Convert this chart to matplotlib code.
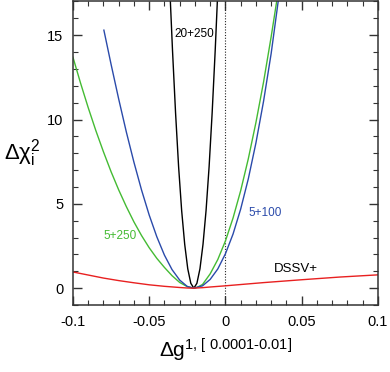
import matplotlib
matplotlib.use("Agg")
import matplotlib.pyplot as plt

plt.rcParams['font.family'] = ['Liberation Sans', 'DejaVu Sans']
plt.rcParams['mathtext.fontset'] = 'custom'
plt.rcParams['mathtext.rm'] = 'Liberation Sans'
plt.rcParams['mathtext.it'] = 'Liberation Sans'
plt.rcParams['mathtext.default'] = 'regular'

# values
x_20_250 = [-0.0361, -0.0347, -0.0327, -0.0307, -0.0287, -0.0267, -0.0247, -0.0227,
            -0.0207, -0.0187, -0.0167, -0.0147, -0.0127, -0.0107, -0.0087, -0.0067,
            -0.0053]
y_20_250 = [17.0, 14.1, 10.4, 7.2, 4.6, 2.6, 1.15, 0.29,
            0.0, 0.29, 1.15, 2.6, 4.6, 7.2, 10.4, 14.1,
            17.0]

x_5_250 = [-0.100, -0.095, -0.090, -0.085, -0.080, -0.075, -0.070, -0.065,
           -0.060, -0.055, -0.050, -0.045, -0.040, -0.035, -0.030, -0.025,
           -0.0207, -0.0185, -0.015, -0.010, -0.005, 0.000, 0.005, 0.010,
           0.015, 0.020, 0.025, 0.030, 0.0336]
y_5_250 = [13.7, 12.16, 10.71, 9.35, 8.09, 6.91, 5.83, 4.84,
           3.93, 3.12, 2.40, 1.77, 1.23, 0.74, 0.34, 0.09,
           0.0, 0.05, 0.22, 0.85, 1.70, 2.80, 4.16, 5.78,
           7.67, 9.82, 12.22, 14.91, 17.0]

x_5_100 = [-0.0797, -0.075, -0.070, -0.065, -0.060, -0.055, -0.050, -0.045,
           -0.040, -0.035, -0.030, -0.025, -0.0207, -0.015, -0.010, -0.005,
           0.000, 0.005, 0.010, 0.015, 0.020, 0.025, 0.030, 0.0346]
y_5_100 = [15.3, 13.28, 11.22, 9.27, 7.47, 5.82, 4.34, 3.05,
           1.96, 1.10, 0.48, 0.10, 0.0, 0.14, 0.52, 1.14,
           2.04, 3.21, 4.69, 6.48, 8.61, 11.08, 13.92, 17.0]

x_dssv = [-0.100, -0.090, -0.080, -0.070, -0.060, -0.050, -0.040, -0.030,
          -0.025, -0.021, -0.015, -0.010, 0.000, 0.025, 0.050, 0.075, 0.100]
y_dssv = [0.96, 0.78, 0.60, 0.45, 0.32, 0.20, 0.11, 0.04,
          0.01, 0.0, 0.03, 0.07, 0.14, 0.33, 0.50, 0.66, 0.79]

fig = plt.figure(figsize=(3.9, 3.72), dpi=100)
ax = fig.add_axes([0.187, 0.180, 0.782, 0.816])

green = '#44bb33'
blue = '#2a4aaa'
red = '#e82020'

ax.axvline(0, color='#222222', lw=0.8, ls=(0, (1, 1.5)))
ax.plot(x_20_250, y_20_250, color='black', lw=1.0)
ax.plot(x_5_250, y_5_250, color=green, lw=1.0)
ax.plot(x_5_100, y_5_100, color=blue, lw=1.0)
ax.plot(x_dssv, y_dssv, color=red, lw=1.0)

ax.text(-0.0207, 15.07, '20+250', color='black', fontsize=8.5, ha='center', va='center')
ax.text(-0.0689, 3.1, '5+250', color=green, fontsize=8.5, ha='center', va='center')
ax.text(0.0262, 4.47, '5+100', color=blue, fontsize=8.5, ha='center', va='center')
ax.text(0.0459, 1.15, 'DSSV+', color='black', fontsize=9.5, ha='center', va='center')

ax.set_xlim(-0.1, 0.1)
ax.set_ylim(-1, 17)
ax.set_xticks([-0.1, -0.05, 0, 0.05, 0.1])
ax.set_xticklabels(['-0.1', '-0.05', '0', '0.05', '0.1'])
ax.set_xticks([i * 0.01 - 0.1 for i in range(21)], minor=True)
ax.set_yticks([0, 5, 10, 15])
ax.set_yticks(range(-1, 18), minor=True)

ax.tick_params(which='both', direction='in', top=True, right=True,
               color='#333333', labelsize=10.5, pad=7)
ax.tick_params(which='major', length=6.5, width=1.0)
ax.tick_params(which='minor', length=3.6, width=0.8)
for s in ax.spines.values():
    s.set_color('#333333')
    s.set_linewidth(1.1)

ax.set_xlabel('$\\Delta g^{1{,}\\ [\\ 0.0001\u20100.01]}$', fontsize=15, va='top')
ax.xaxis.set_label_coords(0.5, -0.105)
ax.set_ylabel('$\\Delta\\chi_{i}^{2}$', fontsize=16, rotation=0, ha='center', va='center')
ax.yaxis.set_label_coords(-0.167, 0.5)

fig.savefig('out.png', dpi=100)
